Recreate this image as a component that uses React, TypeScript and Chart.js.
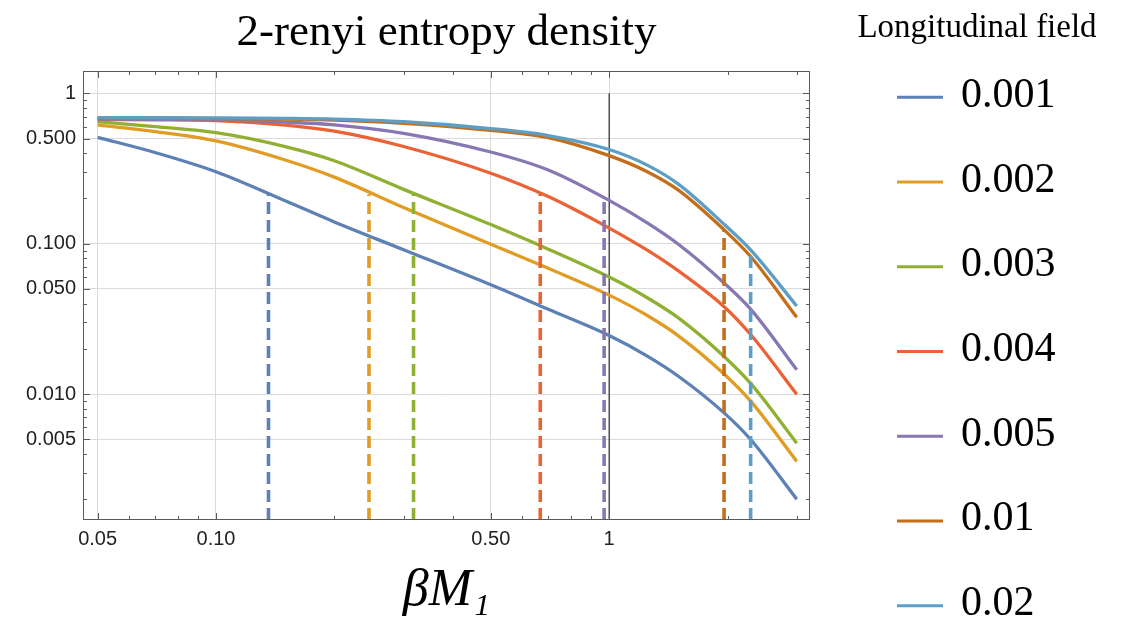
import React, { useEffect, useRef } from 'react';
import { Chart, registerables } from 'chart.js';

Chart.register(...registerables);

// ---------- data ----------
const FIELD_LABELS = ['0.001', '0.002', '0.003', '0.004', '0.005', '0.01', '0.02'];
const COLORS = ['#5E81B5', '#E19C24', '#8FB032', '#EB6235', '#8778B3', '#C56E1A', '#5D9EC7'];

const BETA_M = [0.05, 0.07, 0.1, 0.15, 0.2, 0.3, 0.5, 0.7, 1, 1.25, 1.5, 1.96, 2.29, 3];
const S_0001 = [0.51, 0.404, 0.301, 0.193, 0.1396, 0.0912, 0.0533, 0.0366, 0.0245, 0.0179, 0.01315, 0.0075, 0.00499, 0.002];
const S_0002 = [0.616, 0.556, 0.482, 0.36, 0.277, 0.174, 0.0993, 0.0686, 0.0455, 0.0333, 0.0244, 0.0136, 0.00897, 0.00357];
const S_0003 = [0.648, 0.6, 0.547, 0.442, 0.356, 0.2297, 0.134, 0.092, 0.06, 0.0437, 0.0321, 0.0178, 0.01178, 0.00471];
const S_0004 = [0.671, 0.667, 0.659, 0.615, 0.56, 0.443, 0.294, 0.2056, 0.127, 0.0905, 0.0659, 0.0381, 0.0249, 0.00998];
const S_0005 = [0.675, 0.672, 0.665, 0.644, 0.617, 0.542, 0.407, 0.309, 0.194, 0.1375, 0.0991, 0.0548, 0.0367, 0.0145];
const S_001 = [0.683, 0.682, 0.679, 0.674, 0.664, 0.632, 0.567, 0.508, 0.385, 0.301, 0.227, 0.1238, 0.0822, 0.0324];
const S_002 = [0.689, 0.688, 0.686, 0.681, 0.673, 0.647, 0.583, 0.524, 0.423, 0.333, 0.249, 0.1346, 0.091, 0.0385];
const SERIES = [S_0001, S_0002, S_0003, S_0004, S_0005, S_001, S_002];

// vertical dashed markers (x position and curve value where they stop)
const DASH_X = [0.136, 0.245, 0.318, 0.668, 0.971, 1.96, 2.29];
const DASH_TOP = [0.215, 0.213, 0.213, 0.214, 0.205, 0.1238, 0.091];

// axes
const X_MIN = 0.0459;
const X_MAX = 3.242;
const Y_MIN = 0.001455;
const Y_MAX = 1.407;
const X_TICKS = [0.05, 0.1, 0.5, 1];
const X_TICK_LABELS = ['0.05', '0.10', '0.50', '1'];
const X_MINOR = [0.06, 0.07, 0.08, 0.09, 0.2, 0.3, 0.4, 0.6, 0.7, 0.8, 0.9, 2, 3];
const Y_TICKS = [0.005, 0.01, 0.05, 0.1, 0.5, 1];
const Y_TICK_LABELS = ['0.005', '0.010', '0.050', '0.100', '0.500', '1'];
const Y_MINOR = [0.002, 0.003, 0.004, 0.006, 0.007, 0.008, 0.009, 0.02, 0.03, 0.04, 0.06, 0.07, 0.08, 0.09, 0.2, 0.3, 0.4, 0.6, 0.7, 0.8, 0.9];

const TITLE = '2-renyi entropy density';
const X_TITLE = 'βM₁';
const LEGEND_TITLE = 'Longitudinal field';

const FRAME_COLOR = '#5a5a5a';
const GRID_COLOR = '#dadada';

const framePlugin = {
  id: 'framePlugin',
  afterDraw(chart: any) {
    const { ctx, chartArea: a, scales } = chart;
    const xs = scales.x;
    const ys = scales.y;
    ctx.save();
    ctx.strokeStyle = FRAME_COLOR;
    ctx.lineWidth = 1;
    ctx.strokeRect(a.left + 0.5, a.top + 0.5, a.right - a.left - 1, a.bottom - a.top - 1);
    const drawX = (v: number, len: number) => {
      const p = Math.round(xs.getPixelForValue(v)) + 0.5;
      ctx.beginPath();
      ctx.moveTo(p, a.bottom);
      ctx.lineTo(p, a.bottom - len);
      ctx.moveTo(p, a.top);
      ctx.lineTo(p, a.top + len);
      ctx.stroke();
    };
    const drawY = (v: number, len: number) => {
      const p = Math.round(ys.getPixelForValue(v)) + 0.5;
      ctx.beginPath();
      ctx.moveTo(a.left, p);
      ctx.lineTo(a.left + len, p);
      ctx.moveTo(a.right, p);
      ctx.lineTo(a.right - len, p);
      ctx.stroke();
    };
    X_TICKS.forEach((v) => drawX(v, 7));
    X_MINOR.forEach((v) => drawX(v, 4));
    Y_TICKS.forEach((v) => drawY(v, 7));
    Y_MINOR.forEach((v) => drawY(v, 4));

    // title
    ctx.fillStyle = '#000';
    ctx.textAlign = 'center';
    ctx.textBaseline = 'alphabetic';
    ctx.font = '45px "Liberation Serif"';
    ctx.fillText(TITLE, (a.left + a.right) / 2, 45);

    // legend
    ctx.font = '33px "Liberation Serif"';
    ctx.fillText(LEGEND_TITLE, 977, 37);
    const items = chart.data.datasets.filter((d: any) => d.isCurve);
    items.forEach((d: any, i: number) => {
      const y = 97.3 + 84.73 * i;
      ctx.strokeStyle = d.borderColor;
      ctx.lineWidth = 3;
      ctx.beginPath();
      ctx.moveTo(897, y);
      ctx.lineTo(943, y);
      ctx.stroke();
      ctx.fillStyle = '#000';
      ctx.textAlign = 'left';
      ctx.font = '42px "Liberation Serif"';
      ctx.fillText(d.label, 961, y + 9.5);
    });
    ctx.restore();
  },
};

export default function App() {
  const ref = useRef<HTMLCanvasElement>(null);
  useEffect(() => {
    const curves = SERIES.map((s, i) => ({
      label: FIELD_LABELS[i],
      isCurve: true,
      data: BETA_M.map((x, j) => ({ x, y: s[j] })),
      borderColor: COLORS[i],
      backgroundColor: COLORS[i],
      borderWidth: 3.3,
      pointRadius: 0,
      cubicInterpolationMode: 'monotone',
      fill: false,
      order: 8 - i,
    }));
    const dashes = DASH_X.map((x, i) => ({
      label: 'marker ' + FIELD_LABELS[i],
      data: [
        { x, y: Y_MIN },
        { x, y: DASH_TOP[i] },
      ],
      borderColor: COLORS[i],
      borderWidth: 3.6,
      borderDash: [12, 6],
      pointRadius: 0,
      fill: false,
      order: 0,
    }));
    const axisLine = {
      label: 'axis',
      data: [
        { x: 1, y: Y_MIN },
        { x: 1, y: 1 },
      ],
      borderColor: '#000',
      borderWidth: 1,
      pointRadius: 0,
      fill: false,
      order: 20,
    };
    const chart = new Chart(ref.current as HTMLCanvasElement, {
      type: 'line',
      data: { datasets: [...curves, ...dashes, axisLine] as any },
      options: {
        animation: false,
        responsive: false,
        events: [],
        layout: { padding: { top: 71, right: 315, left: 0, bottom: 0 } },
        plugins: {
          legend: { display: false },
          title: { display: false },
          tooltip: { enabled: false },
        },
        scales: {
          x: {
            type: 'logarithmic',
            min: X_MIN,
            max: X_MAX,
            bounds: 'data',
            afterBuildTicks: (s: any) => {
              s.ticks = X_TICKS.map((v) => ({ value: v }));
            },
            afterFit: (s: any) => {
              s.height = 103;
            },
            grid: { color: GRID_COLOR, lineWidth: 1, drawTicks: false },
            border: { display: false },
            ticks: {
              autoSkip: false,
              maxRotation: 0,
              padding: 7,
              color: '#222',
              font: { family: '"Liberation Sans"', size: 20 },
              callback: (_v: any, i: number) => X_TICK_LABELS[i],
            },
            title: {
              display: true,
              text: X_TITLE,
              color: '#000',
              font: { family: '"Liberation Serif"', size: 52, style: 'italic' },
              padding: { top: 0, bottom: 0 },
            },
          },
          y: {
            type: 'logarithmic',
            min: Y_MIN,
            max: Y_MAX,
            bounds: 'data',
            afterBuildTicks: (s: any) => {
              s.ticks = Y_TICKS.map((v) => ({ value: v }));
            },
            afterFit: (s: any) => {
              s.width = 83;
            },
            grid: { color: GRID_COLOR, lineWidth: 1, drawTicks: false },
            border: { display: false },
            ticks: {
              autoSkip: false,
              padding: 7,
              color: '#222',
              font: { family: '"Liberation Sans"', size: 20 },
              callback: (_v: any, i: number) => Y_TICK_LABELS[i],
            },
          },
        },
      } as any,
      plugins: [framePlugin],
    });
    return () => chart.destroy();
  }, []);
  return (
    <div style={{ position: 'fixed', left: 0, top: 0, width: 1125, height: 623, background: '#fff' }}>
      <canvas ref={ref} width={1125} height={623} style={{ display: 'block' }} />
    </div>
  );
}
